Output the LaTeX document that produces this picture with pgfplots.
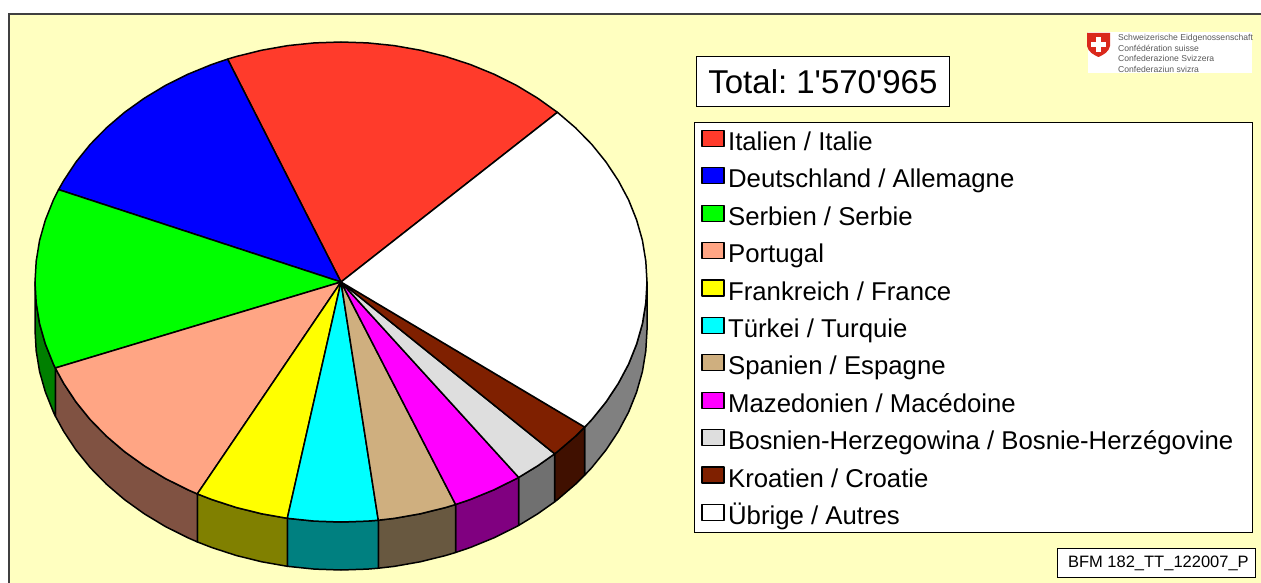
\documentclass[border=0pt]{standalone}
\usepackage{fontspec}
\setmainfont{Liberation Sans}
\newfontfamily\plainfont{Liberation Sans}
\usepackage{pgfplots}
\pgfplotsset{compat=1.18}

\definecolor{bg}{HTML}{FFFFC0}
\definecolor{cit}{HTML}{FF3B2B}
\definecolor{cde}{HTML}{0000FF}
\definecolor{crs}{HTML}{00FF00}
\definecolor{cpt}{HTML}{FFA584}
\definecolor{cfr}{HTML}{FFFF00}
\definecolor{ctr}{HTML}{00FFFF}
\definecolor{ces}{HTML}{CFAF7F}
\definecolor{cmk}{HTML}{FF00FF}
\definecolor{cba}{HTML}{DEDEDE}
\definecolor{chr}{HTML}{7F2000}
\definecolor{srs}{HTML}{007F00}
\definecolor{spt}{HTML}{805242}
\definecolor{sfr}{HTML}{808000}
\definecolor{str}{HTML}{008080}
\definecolor{ses}{HTML}{685840}
\definecolor{smk}{HTML}{800080}
\definecolor{sba}{HTML}{707070}
\definecolor{shr}{HTML}{401000}
\definecolor{sot}{HTML}{808080}
\definecolor{logored}{HTML}{DA291C}

\begin{document}
\begin{tikzpicture}
\begin{axis}[
    scale only axis,
    width=1261pt, height=583pt,
    xmin=0, xmax=1261, ymin=0, ymax=583,
    y dir=reverse,
    hide axis,
    clip=false,
    pie/.style={draw=black, line width=1.5pt, line join=round},
    legend cell align=left,
    legend image code/.code={\draw[#1, line width=1.2pt] (0pt,-6pt) rectangle (22pt,10pt);},
    legend style={
        at={(axis cs:694,122)}, anchor=north west,
        draw=black, line width=0.8pt, fill=white,
        font=\fontsize{25.75}{30}\selectfont,
        inner xsep=7pt, inner ysep=5.5pt,
        row sep=12.4pt,
        nodes={inner xsep=3.5pt, inner ysep=0pt, text height=22.5pt, text depth=2.5pt, text width=514pt,
               execute at begin node={\spaceskip=0.278em\relax}},
    },
    legend columns=1,
]
% page and background
\addplot[fill=white, draw=none, forget plot] coordinates {(0,0)(1261,0)(1261,583)(0,583)} -- cycle;
\addplot[fill=bg, draw=none, forget plot] coordinates {(9,14)(1264,14)(1264,586)(9,586)} -- cycle;
\addplot[draw=black!75, line width=1.2pt, forget plot] coordinates {(9,586)(9,14)(1264,14)};

% side of the disc
\addplot[pie, fill=sot, forget plot] coordinates {(647,282)(645.8,302.9)(642.4,323.7)(636.6,344.1)(628.6,364.1)(618.3,383.4)(606,402)(591.7,419.7)(584.7,427.1)(584.7,475.1)(591.7,467.7)(606,450)(618.3,431.4)(628.6,412.1)(636.6,392.1)(642.4,371.7)(645.8,350.9)(647,330)} -- cycle;
\addplot[pie, fill=shr, forget plot] coordinates {(584.7,427.1)(575.4,436.3)(557.4,451.7)(554.7,453.8)(554.7,501.8)(557.4,499.7)(575.4,484.3)(584.7,475.1)} -- cycle;
\addplot[pie, fill=sba, forget plot] coordinates {(554.7,453.8)(537.7,465.8)(518.7,477.4)(518.7,525.4)(537.7,513.8)(554.7,501.8)} -- cycle;
\addplot[pie, fill=smk, forget plot] coordinates {(518.7,477.4)(516.5,478.6)(494,489.8)(470.3,499.5)(455.6,504.5)(455.6,552.5)(470.3,547.5)(494,537.8)(516.5,526.6)(518.7,525.4)} -- cycle;
\addplot[pie, fill=ses, forget plot] coordinates {(455.6,504.5)(445.7,507.5)(420.2,513.8)(394.1,518.4)(378.3,520.2)(378.3,568.2)(394.1,566.4)(420.2,561.8)(445.7,555.5)(455.6,552.5)} -- cycle;
\addplot[pie, fill=str, forget plot] coordinates {(378.3,520.2)(367.7,521.1)(341,522)(314.3,521.1)(287.3,518.3)(287.3,566.3)(314.3,569.1)(341,570)(367.7,569.1)(378.3,568.2)} -- cycle;
\addplot[pie, fill=sfr, forget plot] coordinates {(287.3,518.3)(261.8,513.8)(236.3,507.5)(211.7,499.5)(197.3,493.9)(197.3,541.9)(211.7,547.5)(236.3,555.5)(261.8,561.8)(287.3,566.3)} -- cycle;
\addplot[pie, fill=spt, forget plot] coordinates {(197.3,493.9)(188,489.8)(165.5,478.6)(144.3,465.8)(124.6,451.7)(106.6,436.3)(90.3,419.7)(76,402)(63.7,383.4)(55.3,368)(55.3,416)(63.7,431.4)(76,450)(90.3,467.7)(106.6,484.3)(124.6,499.7)(144.3,513.8)(165.5,526.6)(188,537.8)(197.3,541.9)} -- cycle;
\addplot[pie, fill=srs, forget plot] coordinates {(55.3,368)(53.4,364.1)(45.4,344.1)(39.6,323.7)(36.2,302.9)(35,282)(35,330)(36.2,350.9)(39.6,371.7)(45.4,392.1)(53.4,412.1)(55.3,416)} -- cycle;

% top of the disc
\addplot[pie, fill=cit] coordinates {(341,282)(227.6,59.1)(236.3,56.5)(261.8,50.2)(287.9,45.6)(314.3,42.9)(341,42)(367.7,42.9)(394.1,45.6)(420.2,50.2)(445.7,56.5)(470.3,64.5)(494,74.2)(516.5,85.4)(537.7,98.2)(557.4,112.3)} -- cycle;
\addlegendentry{Italien / Italie}
\addplot[pie, fill=cde] coordinates {(341,282)(58.6,189.6)(63.7,180.6)(76,162)(90.3,144.3)(106.6,127.7)(124.6,112.3)(144.3,98.2)(165.5,85.4)(188,74.2)(211.7,64.5)(227.6,59.1)} -- cycle;
\addlegendentry{Deutschland / Allemagne}
\addplot[pie, fill=crs] coordinates {(341,282)(55.3,368)(53.4,364.1)(45.4,344.1)(39.6,323.7)(36.2,302.9)(35,282)(36.2,261.1)(39.6,240.3)(45.4,219.9)(53.4,199.9)(58.6,189.6)} -- cycle;
\addlegendentry{Serbien / Serbie}
\addplot[pie, fill=cpt] coordinates {(341,282)(197.3,493.9)(188,489.8)(165.5,478.6)(144.3,465.8)(124.6,451.7)(106.6,436.3)(90.3,419.7)(76,402)(63.7,383.4)(55.3,368)} -- cycle;
\addlegendentry{Portugal}
\addplot[pie, fill=cfr] coordinates {(341,282)(287.3,518.3)(261.8,513.8)(236.3,507.5)(211.7,499.5)(197.3,493.9)} -- cycle;
\addlegendentry{Frankreich / France}
\addplot[pie, fill=ctr] coordinates {(341,282)(378.3,520.2)(367.7,521.1)(341,522)(314.3,521.1)(287.3,518.3)} -- cycle;
\addlegendentry{Türkei / Turquie}
\addplot[pie, fill=ces] coordinates {(341,282)(455.6,504.5)(445.7,507.5)(420.2,513.8)(394.1,518.4)(378.3,520.2)} -- cycle;
\addlegendentry{Spanien / Espagne}
\addplot[pie, fill=cmk] coordinates {(341,282)(518.7,477.4)(516.5,478.6)(494,489.8)(470.3,499.5)(455.6,504.5)} -- cycle;
\addlegendentry{Mazedonien / Macédoine}
\addplot[pie, fill=cba] coordinates {(341,282)(554.7,453.8)(537.7,465.8)(518.7,477.4)} -- cycle;
\addlegendentry{Bosnien-Herzegowina / Bosnie-Herzégovine}
\addplot[pie, fill=chr] coordinates {(341,282)(584.7,427.1)(575.4,436.3)(557.4,451.7)(554.7,453.8)} -- cycle;
\addlegendentry{Kroatien / Croatie}
\addplot[pie, fill=white] coordinates {(341,282)(557.4,112.3)(575.4,127.7)(591.7,144.3)(606,162)(618.3,180.6)(628.6,199.9)(636.6,219.9)(642.4,240.3)(645.8,261.1)(647,282)(645.8,302.9)(642.4,323.7)(636.6,344.1)(628.6,364.1)(618.3,383.4)(606,402)(591.7,419.7)(584.7,427.1)} -- cycle;
\addlegendentry{Übrige / Autres}

% total and reference boxes
\node[draw=black, line width=0.8pt, fill=white, anchor=north west, minimum width=253pt, minimum height=50pt, inner sep=0pt,
      font=\plainfont\fontsize{33}{36}\selectfont\frenchspacing] at (axis cs:696,56) {Total: 1'570'965};
\node[draw=black, line width=0.8pt, fill=white, anchor=north west, minimum width=198pt, minimum height=29pt, inner sep=0pt,
      font=\fontsize{16.5}{18}\selectfont] at (axis cs:1057,548) {\hspace{4pt}BFM 182\_TT\_122007\_P};

% logo
\fill[white] (axis cs:1088,32) rectangle (axis cs:1252,73);
\fill[logored] (axis cs:1087,33) -- (axis cs:1110,33) -- (axis cs:1110,46) .. controls (axis cs:1109,52) and (axis cs:1103,55) .. (axis cs:1098.5,57) .. controls (axis cs:1094,55) and (axis cs:1088,52) .. (axis cs:1087,46) -- cycle;
\fill[white] (axis cs:1096,37) rectangle (axis cs:1101,52);
\fill[white] (axis cs:1091,42) rectangle (axis cs:1106,47);
\foreach \yy/\tt in {38/Schweizerische Eidgenossenschaft, 48.3/Confédération suisse, 58.6/Confederazione Svizzera, 69/Confederaziun svizra}{
    \edef\temp{\noexpand\node[anchor=west, inner sep=0pt, text=black!65, font=\noexpand\fontsize{8.6}{9}\noexpand\selectfont] at (axis cs:1118,\yy) {\tt};}
    \temp
}
\end{axis}
\pgfresetboundingbox
\path (0pt,0pt) rectangle (1261pt,583pt);
\end{tikzpicture}
\end{document}
